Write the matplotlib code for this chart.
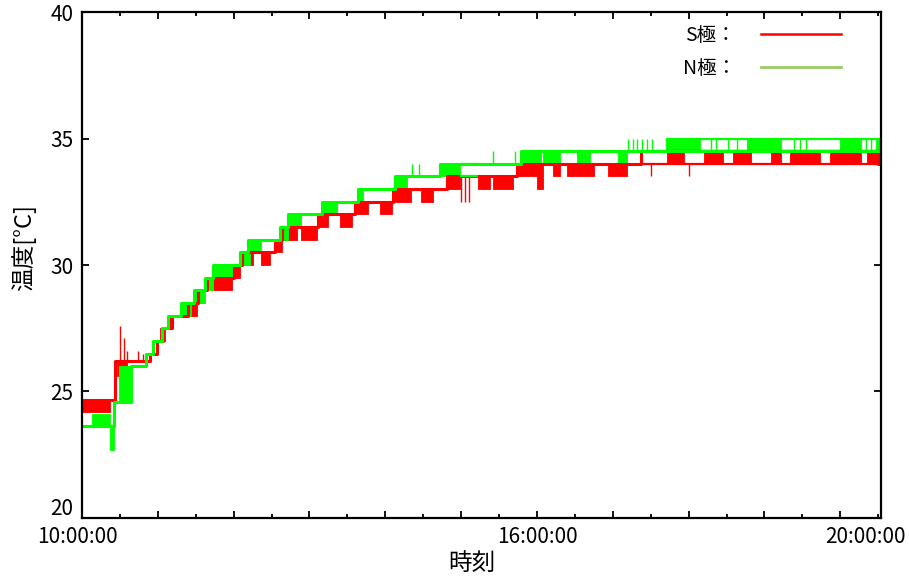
import matplotlib
matplotlib.use('Agg')
import matplotlib.pyplot as plt
import matplotlib.dates as mdates
import matplotlib.transforms as mtransforms
from matplotlib.lines import Line2D
import pandas as pd

plt.rcParams['font.family'] = ['Noto Sans CJK JP', 'DejaVu Sans']

DAY = '2000-01-01 '
T_START, T_END = '10:00', '20:32'

# S極 (red) -- base level, changes at these times
s_step_t = ['10:00', '10:26', '10:54', '10:59', '11:04', '11:11', '11:24', '11:32', '11:39',
            '12:00', '12:07', '12:33', '12:38', '13:07', '13:36', '14:06', '14:49', '15:44',
            '17:22', '20:30']
s_step_v = [24.65, 26.2, 26.5, 27.0, 27.5, 28.0, 28.5, 29.0, 29.5,
            30.0, 30.5, 31.0, 31.5, 32.0, 32.5, 33.0, 33.5, 34.0,
            34.5, 34.0]
# dense flicker between two levels (from, to, low, high)
s_blocks = [('10:00', '10:22', 24.2, 24.65), ('10:28', '10:36', 25.6, 26.2),
            ('11:02', '11:06', 27.0, 27.5), ('11:08', '11:11', 27.5, 28.0),
            ('11:25', '11:31', 28.0, 28.5), ('11:32', '11:36', 28.5, 29.0),
            ('11:44', '11:59', 29.0, 29.5), ('12:00', '12:05', 29.5, 30.0),
            ('12:07', '12:15', 30.0, 30.5), ('12:22', '12:29', 30.0, 30.5),
            ('12:33', '12:38', 30.5, 31.0), ('12:38', '12:50', 31.0, 31.5),
            ('12:53', '13:06', 31.0, 31.5), ('13:07', '13:15', 31.5, 32.0),
            ('13:24', '13:34', 31.5, 32.0), ('13:36', '13:46', 32.0, 32.5),
            ('13:56', '14:05', 32.0, 32.5), ('14:06', '14:20', 32.5, 33.0),
            ('14:28', '14:38', 32.5, 33.0), ('14:49', '14:59', 33.0, 33.5),
            ('15:13', '15:23', 33.0, 33.5), ('15:25', '15:41', 33.0, 33.5),
            ('15:44', '16:00', 33.5, 34.0), ('16:00', '16:05', 33.0, 34.0),
            ('16:13', '16:18', 33.5, 34.0), ('16:24', '16:45', 33.5, 34.0),
            ('16:56', '17:11', 33.5, 34.0), ('17:43', '17:56', 34.0, 34.5),
            ('18:12', '18:27', 34.0, 34.5), ('18:35', '18:49', 34.0, 34.5),
            ('19:05', '19:13', 34.0, 34.5), ('19:20', '19:44', 34.0, 34.5),
            ('19:52', '20:16', 34.0, 34.5), ('20:21', '20:30', 34.0, 34.5)]
# sparse flicker: both levels drawn as lines
s_bands = [('17:22', '20:32', 34.0, 34.5)]
s_spikes = [('10:30', 26.2, 27.6), ('10:33', 26.2, 27.1), ('10:36', 26.2, 26.6),
            ('10:44', 26.2, 26.6), ('10:48', 26.2, 26.5), ('15:00', 32.5, 33.5),
            ('15:03', 32.5, 33.5), ('15:06', 32.5, 33.5), ('17:30', 33.5, 34.0),
            ('18:00', 33.5, 34.0)]

# N極 (green)
n_step_t = ['10:00', '10:25', '10:39', '10:51', '10:56', '11:03', '11:08', '11:18', '11:29',
            '11:37', '11:44', '12:05', '12:11', '12:37', '12:43', '13:10', '13:38', '14:08',
            '14:43', '15:47']
n_step_v = [23.65, 24.6, 26.0, 26.5, 27.0, 27.5, 28.0, 28.5, 29.0,
            29.5, 30.0, 30.5, 31.0, 31.5, 32.0, 32.5, 33.0, 33.5,
            34.0, 34.5]
n_blocks = [('10:08', '10:22', 23.65, 24.1), ('10:22', '10:25', 22.7, 23.65),
            ('10:29', '10:39', 24.6, 26.0), ('11:18', '11:26', 28.0, 28.5),
            ('11:29', '11:37', 28.5, 29.0), ('11:37', '11:44', 29.0, 29.5),
            ('11:45', '12:00', 29.5, 30.0), ('12:05', '12:13', 30.0, 30.5),
            ('12:13', '12:22', 30.5, 31.0), ('12:37', '12:43', 31.0, 31.5),
            ('12:43', '12:53', 31.5, 32.0), ('13:10', '13:22', 32.0, 32.5),
            ('13:38', '13:42', 32.5, 33.0), ('14:08', '14:17', 33.0, 33.5),
            ('14:43', '14:59', 33.5, 34.0), ('15:47', '16:03', 34.0, 34.5),
            ('16:05', '16:18', 34.0, 34.5), ('16:32', '16:42', 34.0, 34.5),
            ('17:04', '17:11', 34.0, 34.5), ('17:42', '18:09', 34.5, 35.0),
            ('18:46', '19:13', 34.5, 35.0), ('20:00', '20:16', 34.5, 35.0),
            ('20:28', '20:32', 34.5, 35.0)]
n_bands = [('14:59', '15:13', 33.5, 34.0), ('17:42', '20:32', 34.5, 35.0)]
n_spikes = [('14:21', 33.5, 34.0), ('14:27', 33.5, 34.0), ('15:25', 34.0, 34.5),
            ('15:43', 34.0, 34.5), ('17:12', 34.5, 35.0), ('17:16', 34.5, 35.0),
            ('17:19', 34.5, 35.0), ('17:23', 34.5, 35.0), ('17:27', 34.5, 35.0),
            ('17:31', 34.5, 35.0), ('18:18', 34.5, 35.0), ('18:22', 34.5, 35.0),
            ('18:31', 34.5, 35.0), ('18:38', 34.5, 35.0), ('19:23', 34.5, 35.0),
            ('19:28', 34.5, 35.0), ('19:33', 34.5, 35.0), ('20:20', 34.5, 35.0),
            ('20:24', 34.5, 35.0)]

x_labels = {10: '10:00:00', 16: '16:00:00', 20: '20:00:00'}


def tt(s):
    if isinstance(s, str):
        return pd.Timestamp(DAY + s)
    return pd.to_datetime([DAY + x for x in s])


def draw_series(ax, step_t, step_v, blocks, bands, spikes, color):
    for t0, t1, lo, hi in blocks:
        ax.fill_between(tt([t0, t1]), lo, hi, color=color, lw=0.6)
    for t0, t1, lo, hi in bands:
        ax.hlines([lo, hi], tt(t0), tt(t1), color=color, lw=1.6)
    for t, lo, hi in spikes:
        ax.vlines(tt(t), lo, hi, color=color, lw=1.0)
    ax.step(tt(step_t + [T_END]), step_v + [step_v[-1]], where='post', color=color, lw=2.2)


fig = plt.figure(figsize=(9.09, 5.8), dpi=100)
ax = fig.add_axes([0.0902, 0.1069, 0.8787, 0.8724])

draw_series(ax, s_step_t, s_step_v, s_blocks, s_bands, s_spikes, '#ff0000')
draw_series(ax, n_step_t, n_step_v, n_blocks, n_bands, n_spikes, '#00ff00')

ax.set_xlim(tt(T_START), tt(T_END))
ax.set_ylim(20, 40)
ax.set_yticks([20, 25, 30, 35, 40])

ax.xaxis.set_major_locator(mdates.HourLocator())
ax.xaxis.set_minor_locator(mdates.MinuteLocator(byminute=[30]))


def fmt_hour(x, pos):
    d = mdates.num2date(x)
    return x_labels.get(d.hour, '') if d.minute == 0 else ''


ax.xaxis.set_major_formatter(plt.FuncFormatter(fmt_hour))
ax.tick_params(which='both', direction='in', top=True, right=True, width=1.3, labelsize=15)
ax.tick_params(which='major', length=5)
ax.tick_params(which='minor', length=3)
ax.tick_params(axis='x', pad=6)
ax.tick_params(axis='y', pad=6)
for sp in ax.spines.values():
    sp.set_linewidth(1.6)

# end labels are nudged off their ticks in the reference
for lab in ax.get_xticklabels():
    if lab.get_text() == '20:00:00':
        lab.set_transform(lab.get_transform() + mtransforms.ScaledTranslation(0.25, 0, fig.dpi_scale_trans))
    if lab.get_text() == '10:00:00':
        lab.set_transform(lab.get_transform() + mtransforms.ScaledTranslation(-0.05, 0, fig.dpi_scale_trans))
ylabs = ax.get_yticklabels()
ylabs[0].set_transform(ylabs[0].get_transform() + mtransforms.ScaledTranslation(0, 0.11, fig.dpi_scale_trans))

ax.set_xlabel('時刻', fontsize=17)
ax.set_ylabel('温度[°C]', fontsize=17)
ax.xaxis.set_label_coords(0.488, -0.067)
ax.yaxis.set_label_coords(-0.058, 0.535)

handles = [Line2D([], [], color='#ff0000', lw=1.8), Line2D([], [], color='#99cc66', lw=2)]
ax.legend(handles, ['S極：', 'N極：'], loc='upper right', bbox_to_anchor=(0.9503, 0.975),
          frameon=False, markerfirst=False, handlelength=4.1, handletextpad=1.3,
          fontsize=14, labelspacing=0.65, borderpad=0, borderaxespad=0)

fig.savefig('out.png', dpi=100)
